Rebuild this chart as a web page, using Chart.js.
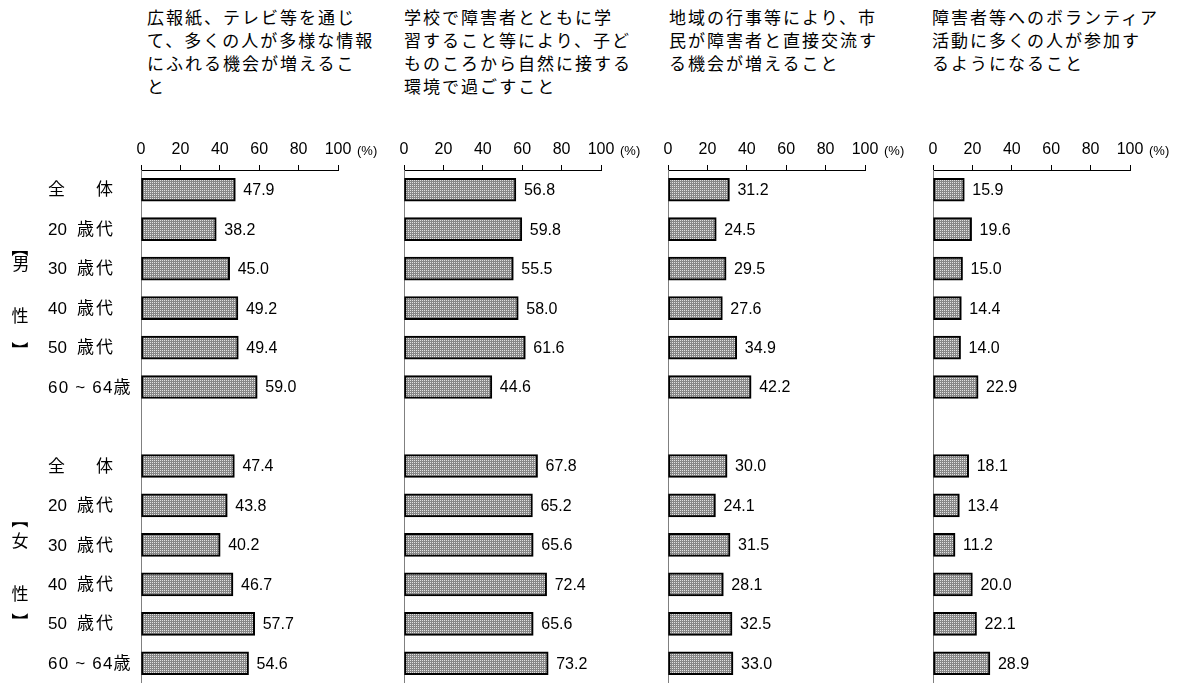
<!DOCTYPE html>
<html>
<head>
<meta charset="utf-8">
<script src="https://cdn.jsdelivr.net/npm/chart.js@4"></script>
<style>
  body { margin: 0; background: #fff; }
  #wrap { position: relative; width: 1185px; height: 683px; overflow: hidden; }
  #wrap canvas { position: absolute; left: 0; top: 0; }
  .title {
    position: absolute; top: 5px;
    font-family: 'Noto Sans CJK JP', sans-serif;
    font-size: 17px; line-height: 23px; letter-spacing: 2px;
    color: #000; white-space: nowrap;
  }
</style>
</head>
<body>
<div id="wrap">
  <div class="title" style="left:147px">広報紙、テレビ等を通じ<br>て、多くの人が多様な情報<br>にふれる機会が増えるこ<br>と</div>
  <div class="title" style="left:404px">学校で障害者とともに学<br>習すること等により、子ど<br>ものころから自然に接する<br>環境で過ごすこと</div>
  <div class="title" style="left:669px">地域の行事等により、市<br>民が障害者と直接交流す<br>る機会が増えること</div>
  <div class="title" style="left:932px">障害者等へのボランティア<br>活動に多くの人が参加す<br>るようになること</div>
  <canvas id="c1" width="1185" height="683"></canvas>
  <canvas id="c2" width="1185" height="683"></canvas>
  <canvas id="c3" width="1185" height="683"></canvas>
  <canvas id="c4" width="1185" height="683"></canvas>
</div>
<script>
// categories (male rows, blank gap row, female rows)
const maleLabels = ['全　　体', '20　歳代', '30　歳代', '40　歳代', '50　歳代', '60 ~ 64歳'];
const femaleLabels = ['全　　体', '20　歳代', '30　歳代', '40　歳代', '50　歳代', '60 ~ 64歳'];
const xTicks = [0, 20, 40, 60, 80, 100];

// values (%) per panel
const media_m = [47.9, 38.2, 45.0, 49.2, 49.4, 59.0];
const media_f = [47.4, 43.8, 40.2, 46.7, 57.7, 54.6];
const school_m = [56.8, 59.8, 55.5, 58.0, 61.6, 44.6];
const school_f = [67.8, 65.2, 65.6, 72.4, 65.6, 73.2];
const local_m = [31.2, 24.5, 29.5, 27.6, 34.9, 42.2];
const local_f = [30.0, 24.1, 31.5, 28.1, 32.5, 33.0];
const volunteer_m = [15.9, 19.6, 15.0, 14.4, 14.0, 22.9];
const volunteer_f = [18.1, 13.4, 11.2, 20.0, 22.1, 28.9];

const labels = [...maleLabels, '', ...femaleLabels];

Chart.defaults.font.family = "'Liberation Sans', 'Noto Sans CJK JP', sans-serif";
Chart.defaults.color = '#000';

// dotted grey fill like the original hatch
function makePattern() {
    const p = document.createElement('canvas');
    p.width = 2; p.height = 2;
    const g = p.getContext('2d');
    g.fillStyle = '#878787';
    g.fillRect(0, 0, 2, 2);
    g.fillStyle = '#e2e2e2';
    g.fillRect(0, 0, 1, 1);
    return g.createPattern(p, 'repeat');
}

// value text right of each bar + "(%)" unit
const valueLabels = {
    id: 'valueLabels',
    afterDatasetsDraw(chart) {
        const ctx = chart.ctx;
        const meta = chart.getDatasetMeta(0);
        const data = chart.data.datasets[0].data;
        ctx.save();
        ctx.font = "16px 'Liberation Sans', sans-serif";
        ctx.fillStyle = '#000';
        ctx.textAlign = 'left';
        ctx.textBaseline = 'middle';
        meta.data.forEach((bar, i) => {
            if (data[i] == null) return;
            ctx.fillText(data[i].toFixed(1), bar.x + 8, bar.y + 1);
        });
        ctx.font = "13px 'Liberation Sans', sans-serif";
        ctx.fillText('(%)', chart.chartArea.right + 19, 151);
        ctx.restore();
    }
};

// row labels: first part at left edge, part after the wide space right-aligned
const rowLabels = {
    id: 'rowLabels',
    afterDraw(chart) {
        const ctx = chart.ctx;
        const y = chart.scales.y;
        ctx.save();
        ctx.font = "17px 'Liberation Sans', 'Noto Sans CJK JP', sans-serif";
        ctx.fillStyle = '#000';
        ctx.textBaseline = 'middle';
        chart.data.labels.forEach((lab, i) => {
            if (!lab) return;
            const py = y.getPixelForValue(i) + 1;
            const parts = lab.split('　').filter(s => s);
            if (parts.length > 1) {
                ctx.letterSpacing = '0px';
                ctx.textAlign = 'left';
                ctx.fillText(parts[0], 48, py);
                ctx.letterSpacing = '2px';
                ctx.textAlign = 'right';
                ctx.fillText(parts[parts.length - 1], 115, py);
            } else {
                ctx.letterSpacing = '1.2px';
                ctx.textAlign = 'left';
                ctx.fillText(lab, 48, py);
            }
        });
        ctx.restore();
    }
};

// 【男性】【女性】 vertical labels at the far left
function inkText(ctx, ch, cx, cy, angle) {
    ctx.save();
    ctx.textAlign = 'left';
    ctx.textBaseline = 'alphabetic';
    const m = ctx.measureText(ch);
    const ox = (m.actualBoundingBoxRight - m.actualBoundingBoxLeft) / 2;
    const oy = (m.actualBoundingBoxDescent - m.actualBoundingBoxAscent) / 2;
    ctx.translate(cx, cy);
    ctx.rotate(angle);
    ctx.fillText(ch, -ox, -oy);
    ctx.restore();
}

const groupLabels = {
    id: 'groupLabels',
    afterDraw(chart) {
        const ctx = chart.ctx;
        const y = chart.scales.y;
        ctx.save();
        ctx.font = "17px 'Noto Sans CJK JP', sans-serif";
        ctx.fillStyle = '#000';
        [[2, '男', -15, -4, 7, -3], [9, '女', -20, -4, 9, -8]].forEach(([row, ch, a, b, c, d]) => {
            inkText(ctx, '【', 20, y.getPixelForValue(row) + a, Math.PI / 2);
            inkText(ctx, ch, 20, y.getPixelForValue(row) + b, 0);
            inkText(ctx, '性', 20, y.getPixelForValue(row + 1) + c, 0);
            inkText(ctx, '】', 20, y.getPixelForValue(row + 2) + d, Math.PI / 2);
        });
        ctx.restore();
    }
};

function createPanel(id, male, female, x0, first) {
    const width = 197;
    new Chart(document.getElementById(id), {
        type: 'bar',
        data: {
            labels: labels,
            datasets: [{
                data: [...male, null, ...female],
                backgroundColor: makePattern(),
                borderColor: '#000',
                borderWidth: 2,
                borderSkipped: false,
                barThickness: 23
            }]
        },
        options: {
            indexAxis: 'y',
            responsive: false,
            animation: false,
            layout: {
                padding: { left: x0, right: 1185 - x0 - width, top: 0, bottom: 0 }
            },
            scales: {
                x: {
                    position: 'top',
                    min: 0,
                    max: 100,
                    afterBuildTicks: (s) => { s.ticks = xTicks.map(v => ({ value: v })); },
                    afterFit: (s) => { s.height = 170; },
                    ticks: { font: { size: 16 }, padding: 6, maxRotation: 0 },
                    grid: { drawOnChartArea: false, tickLength: 5, color: '#000' },
                    border: { color: '#000' }
                },
                y: {
                    afterFit: (s) => { s.width = 0; },
                    ticks: { display: false },
                    grid: { display: false },
                    border: { color: '#808080' }
                }
            },
            plugins: {
                legend: { display: false },
                tooltip: { enabled: false }
            }
        },
        plugins: first ? [valueLabels, rowLabels, groupLabels] : [valueLabels]
    });
}

createPanel('c1', media_m, media_f, 141, true);
createPanel('c2', school_m, school_f, 404, false);
createPanel('c3', local_m, local_f, 668, false);
createPanel('c4', volunteer_m, volunteer_f, 933, false);
</script>
</body>
</html>
